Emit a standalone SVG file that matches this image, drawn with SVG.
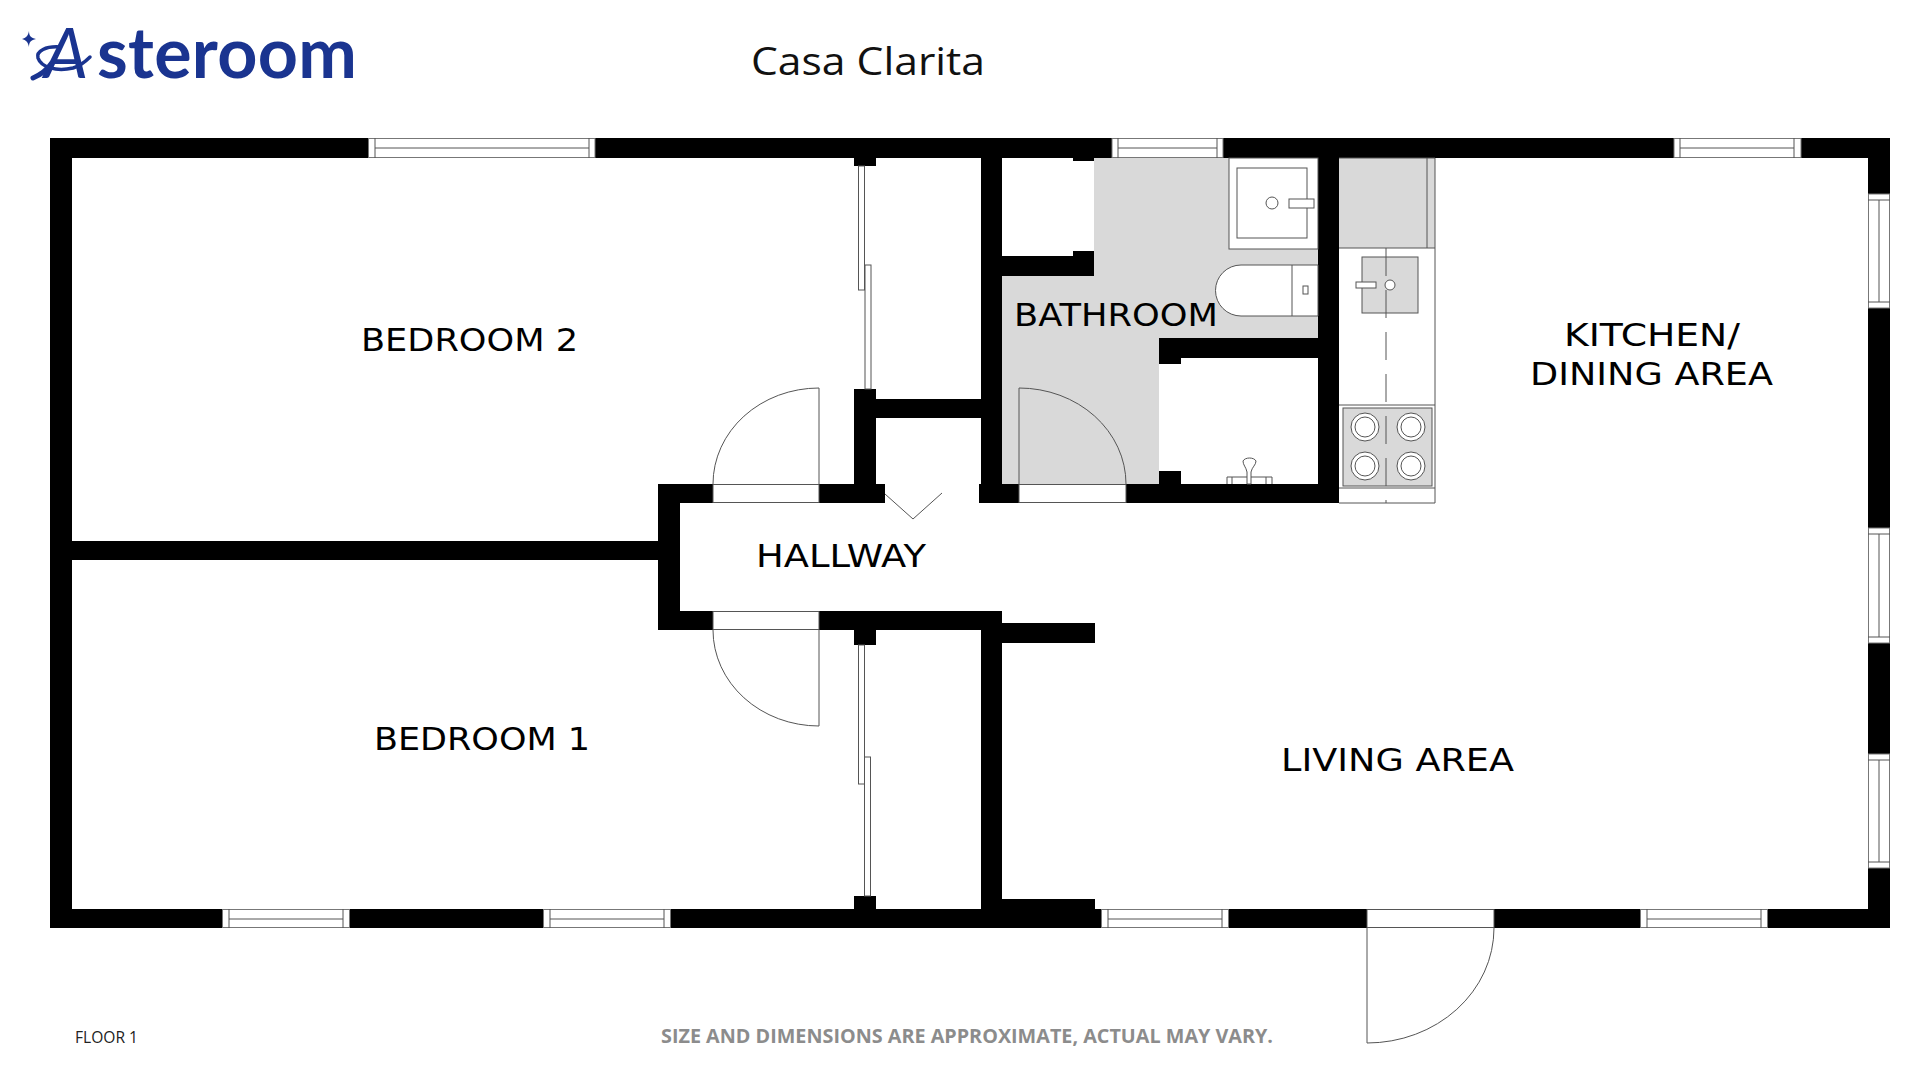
<svg xmlns="http://www.w3.org/2000/svg" width="1920" height="1080" viewBox="0 0 1920 1080">
<style>
.w{fill:#000}
.g{fill:#d9d9d9}
.l{fill:none;stroke:#555;stroke-width:1}
.lw{fill:#fff;stroke:#555;stroke-width:1}
.lg{fill:#d9d9d9;stroke:#555;stroke-width:1}
.win{fill:#fff;stroke:#777;stroke-width:1}
.t{font-family:"DejaVu Sans",sans-serif;font-size:32px;fill:#000}
.n{font-family:"Open Sans",sans-serif}
.sw{fill:none;stroke:#1a3490;stroke-linecap:round}
</style>
<rect width="1920" height="1080" fill="#fff"/>
<g id="logo" fill="#1a3490">
<path d="M29 31 C29 36 31 38 36 39 C31 40 29 42 29 47 C28 42 26 40 22 39 C26 38 28 36 29 31 Z"/>
<text x="44" y="78" font-family="Lato,sans-serif" font-size="70" font-weight="700"><tspan font-style="italic" font-size="70" font-weight="400">A</tspan><tspan x="97" letter-spacing="0.300">steroom</tspan></text>
<path class="sw" stroke-width="5" d="M33 78C42 74 47 70 51 64"/>
<path class="sw" stroke-width="3.500" d="M60 47C46 46 36 51 38 58C41 67 56 72 73 68C80 66 85 62 90 57"/>
</g>
<text id="title" class="n" x="751" y="75" font-size="39" fill="#111" textLength="234" lengthAdjust="spacingAndGlyphs">Casa Clarita</text>
<g id="floors">
<rect class="g" x="1094" y="158" width="224" height="180"/>
<rect class="g" x="1002" y="276" width="157" height="208"/>
<rect class="g" x="1339" y="158" width="96" height="90"/>
</g>
<g id="walls" class="w">
<rect x="50" y="138" width="1840" height="20"/>
<rect x="50" y="138" width="22" height="790"/>
<rect x="50" y="909" width="1840" height="19"/>
<rect x="1868" y="138" width="22" height="790"/>
<rect x="72" y="541" width="586" height="19"/>
<rect x="658" y="484" width="22" height="146"/>
<rect x="658" y="484" width="227" height="19"/>
<rect x="658" y="611" width="344" height="19"/>
<rect x="854" y="389" width="22" height="95"/>
<rect x="876" y="399" width="105" height="19"/>
<rect x="981" y="158" width="21" height="326"/>
<rect x="979" y="484" width="360" height="19"/>
<rect x="981" y="630" width="21" height="280"/>
<rect x="854" y="630" width="22" height="15"/>
<rect x="854" y="896" width="22" height="14"/>
<rect x="854" y="158" width="22" height="8"/>
<rect x="1002" y="623" width="93" height="20"/>
<rect x="1002" y="899" width="93" height="10"/>
<rect x="1073" y="158" width="21" height="3"/>
<rect x="1002" y="256" width="92" height="20"/>
<rect x="1073" y="251" width="21" height="5"/>
<rect x="1318" y="158" width="21" height="345"/>
<rect x="1159" y="338" width="159" height="20"/>
<rect x="1159" y="358" width="22" height="6"/>
<rect x="1159" y="471" width="22" height="13"/>
</g>
<g id="windows">
<g id="win-top-1"><rect class="win" x="368.500" y="138.500" width="226.500" height="19"/><path class="l" d="M375 138V158M589 138V158M375 148H589"/></g>
<g id="win-top-2"><rect class="win" x="1112" y="138.500" width="111" height="19"/><path class="l" d="M1118 138V158M1217 138V158M1118 148H1217"/></g>
<g id="win-top-3"><rect class="win" x="1674" y="138.500" width="127" height="19"/><path class="l" d="M1680 138V158M1794 138V158M1680 148H1794"/></g>
<g id="win-right-1"><rect class="win" x="1868.500" y="194" width="21" height="114"/><path class="l" d="M1868 200H1890M1868 302H1890M1879 200V302"/></g>
<g id="win-right-2"><rect class="win" x="1868.500" y="528" width="21" height="115"/><path class="l" d="M1868 534H1890M1868 637H1890M1879 534V637"/></g>
<g id="win-right-3"><rect class="win" x="1868.500" y="754" width="21" height="114"/><path class="l" d="M1868 760H1890M1868 862H1890M1879 760V862"/></g>
<g id="win-bot-1"><rect class="win" x="222.500" y="909.500" width="127" height="18"/><path class="l" d="M229 909V928M343 909V928M229 919H343"/></g>
<g id="win-bot-2"><rect class="win" x="543.500" y="909.500" width="127" height="18"/><path class="l" d="M550 909V928M664 909V928M550 919H664"/></g>
<g id="win-bot-3"><rect class="win" x="1101.500" y="909.500" width="127" height="18"/><path class="l" d="M1108 909V928M1222 909V928M1108 919H1222"/></g>
<g id="win-bot-4"><rect class="win" x="1640.500" y="909.500" width="127" height="18"/><path class="l" d="M1647 909V928M1761 909V928M1647 919H1761"/></g>
</g>
<g id="doors">
<g id="door-bed2"><rect class="lw" x="713" y="484.500" width="106" height="18"/><path class="l" d="M819 484V388A106 96 0 0 0 713 484"/></g>
<g id="door-bed1"><rect class="lw" x="713" y="611.500" width="106" height="18"/><path class="l" d="M819 630V726A106 96 0 0 1 713 630"/></g>
<g id="door-bath"><rect class="lw" x="1019" y="484.500" width="107" height="18"/><path class="l" d="M1019 484V388A107 96 0 0 1 1126 484"/></g>
<g id="door-entry"><rect class="lw" x="1367" y="909.500" width="127" height="18"/><path class="l" d="M1367 928V1043A127 115 0 0 0 1494 928"/></g>
<g id="door-closet"><path class="l" d="M885 494L913 519L942 493"/></g>
<g id="slide-top"><rect class="lw" x="858.500" y="166" width="6" height="124"/><rect class="lw" x="865" y="265" width="6" height="124"/></g>
<g id="slide-bot"><rect class="lw" x="858.500" y="645" width="6" height="139"/><rect class="lw" x="864.500" y="757" width="6" height="139"/></g>
</g>
<g id="bath-fixtures">
<rect class="lw" x="1229" y="158" width="89" height="91"/>
<rect class="lw" x="1237" y="168" width="70" height="70"/>
<circle class="lw" cx="1272" cy="203" r="6"/>
<rect class="lw" x="1289" y="199" width="25" height="9"/>
<path class="lw" d="M1318 265H1241A25.500 25.500 0 0 0 1241 316H1318Z"/>
<path class="l" d="M1292 265V316"/>
<rect class="lw" x="1303" y="286" width="5" height="8"/>
<path class="l" d="M1227 484V477H1272V484M1232 477V484M1266 477V484"/>
<path class="lw" d="M1243 461C1245 457 1254 457 1256 461C1256 465 1252 467 1251 472V484H1247V472C1246 467 1243 465 1243 461Z"/>
</g>
<g id="kitchen">
<path class="l" d="M1339 158H1435V503H1339M1427 158V248M1339 248H1435M1339 405H1435M1339 488H1435"/>
<rect class="lg" x="1362" y="257" width="56" height="56"/>
<rect class="lg" x="1343" y="408" width="89" height="78"/>
<path class="l" stroke-dasharray="28 14" d="M1386 248V503"/>
<rect class="lw" x="1356" y="282" width="20" height="6"/>
<circle class="lw" cx="1390" cy="285" r="5"/>
<g class="lw">
<circle cx="1365" cy="427" r="14"/><circle cx="1365" cy="427" r="10"/>
<circle cx="1411" cy="427" r="14"/><circle cx="1411" cy="427" r="10"/>
<circle cx="1365" cy="466" r="14"/><circle cx="1365" cy="466" r="10"/>
<circle cx="1411" cy="466" r="14"/><circle cx="1411" cy="466" r="10"/>
</g>
</g>
<g id="labels">
<text class="t" x="361" y="351" textLength="217" lengthAdjust="spacingAndGlyphs">BEDROOM 2</text>
<text class="t" x="374" y="750" textLength="216" lengthAdjust="spacingAndGlyphs">BEDROOM 1</text>
<text class="t" x="1014" y="326" textLength="204" lengthAdjust="spacingAndGlyphs">BATHROOM</text>
<text class="t" x="756" y="567" textLength="170" lengthAdjust="spacingAndGlyphs">HALLWAY</text>
<text class="t" x="1281" y="771" textLength="233" lengthAdjust="spacingAndGlyphs">LIVING AREA</text>
<text class="t" x="1564" y="346" textLength="176" lengthAdjust="spacingAndGlyphs">KITCHEN/</text>
<text class="t" x="1530" y="385" textLength="243" lengthAdjust="spacingAndGlyphs">DINING AREA</text>
</g>
<text id="floor-label" class="n" x="75" y="1043" font-size="16" fill="#222" textLength="63" lengthAdjust="spacingAndGlyphs">FLOOR 1</text>
<text id="note" class="n" x="661" y="1043" font-size="19" font-weight="700" fill="#8c8c8c" textLength="612" lengthAdjust="spacingAndGlyphs">SIZE AND DIMENSIONS ARE APPROXIMATE, ACTUAL MAY VARY.</text>
</svg>
